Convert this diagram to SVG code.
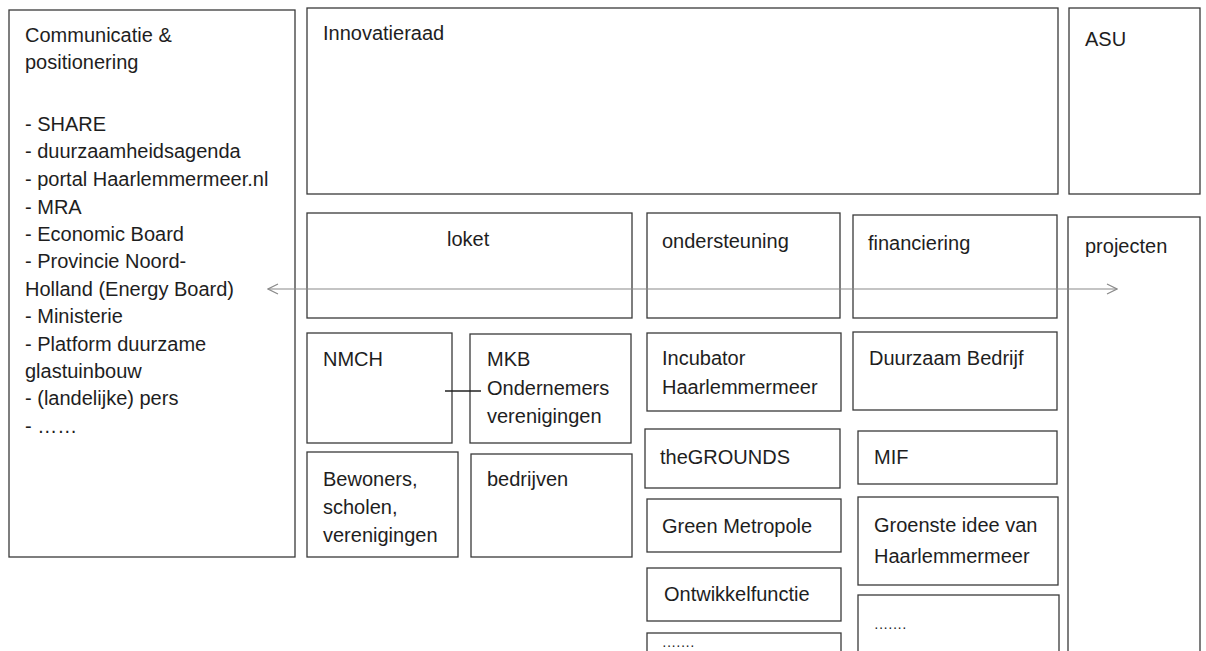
<svg xmlns="http://www.w3.org/2000/svg" width="1206" height="651" viewBox="0 0 1206 651">
<style>
.box{fill:#fff;stroke:#3a3a3a;stroke-width:1.3}
text{font-family:"Liberation Sans",Arial,sans-serif;font-size:20px;fill:#1e1e1e}
.conn{stroke:#8a8a8a;stroke-width:1.2;fill:none}
.link{stroke:#222;stroke-width:1.5;fill:none}
</style>
<defs>
<marker id="open" viewBox="0 0 12 12" refX="11" refY="6" markerWidth="12" markerHeight="12" markerUnits="userSpaceOnUse" orient="auto-start-reverse">
<path d="M1,1 L11,6 L1,11" fill="none" stroke="#8a8a8a" stroke-width="1.2"/>
</marker>
</defs>
<rect width="1206" height="651" fill="#fff"/>
<g id="communicatie">
<rect class="box" x="9" y="10" width="286" height="547"/>
<text x="25" y="42">Communicatie &amp;</text>
<text x="25" y="69">positionering</text>
<text x="25" y="131">- SHARE</text>
<text x="25" y="158">- duurzaamheidsagenda</text>
<text x="25" y="186">- portal Haarlemmermeer.nl</text>
<text x="25" y="214">- MRA</text>
<text x="25" y="241">- Economic Board</text>
<text x="25" y="268">- Provincie Noord-</text>
<text x="25" y="296">Holland (Energy Board)</text>
<text x="25" y="323">- Ministerie</text>
<text x="25" y="351">- Platform duurzame</text>
<text x="25" y="378">glastuinbouw</text>
<text x="25" y="405">- (landelijke) pers</text>
<text x="25" y="433">- ……</text>
</g>
<g id="innovatieraad">
<rect class="box" x="307" y="8" width="751" height="186"/>
<text x="323" y="40">Innovatieraad</text>
</g>
<g id="asu">
<rect class="box" x="1069" y="8" width="131" height="186"/>
<text x="1085" y="46">ASU</text>
</g>
<g id="loket">
<rect class="box" x="307" y="213" width="325" height="105"/>
<text x="447" y="246">loket</text>
</g>
<g id="ondersteuning">
<rect class="box" x="647" y="213" width="193" height="105"/>
<text x="662" y="248">ondersteuning</text>
</g>
<g id="financiering">
<rect class="box" x="853" y="215" width="204" height="103"/>
<text x="868" y="250">financiering</text>
</g>
<g id="projecten">
<rect class="box" x="1068" y="217" width="132" height="440"/>
<text x="1085" y="253">projecten</text>
</g>
<g id="nmch">
<rect class="box" x="307" y="333" width="145" height="110"/>
<text x="323" y="366">NMCH</text>
</g>
<g id="mkb">
<rect class="box" x="470" y="334" width="161" height="109"/>
<text x="487" y="366">MKB</text>
<text x="487" y="395">Ondernemers</text>
<text x="487" y="423">verenigingen</text>
</g>
<g id="bewoners">
<rect class="box" x="307" y="452" width="151" height="105"/>
<text x="323" y="486">Bewoners,</text>
<text x="323" y="514">scholen,</text>
<text x="323" y="542">verenigingen</text>
</g>
<g id="bedrijven">
<rect class="box" x="471" y="454" width="161" height="103"/>
<text x="487" y="486">bedrijven</text>
</g>
<g id="incubator">
<rect class="box" x="647" y="333" width="194" height="78"/>
<text x="662" y="365">Incubator</text>
<text x="662" y="394">Haarlemmermeer</text>
</g>
<g id="duurzaam-bedrijf">
<rect class="box" x="853" y="332" width="204" height="78"/>
<text x="869" y="365">Duurzaam Bedrijf</text>
</g>
<g id="thegrounds">
<rect class="box" x="645" y="429" width="195" height="59"/>
<text x="660" y="464">theGROUNDS</text>
</g>
<g id="mif">
<rect class="box" x="858" y="431" width="199" height="53"/>
<text x="874" y="464">MIF</text>
</g>
<g id="green-metropole">
<rect class="box" x="647" y="499" width="194" height="53"/>
<text x="662" y="533">Green Metropole</text>
</g>
<g id="groenste-idee">
<rect class="box" x="858" y="497" width="200" height="88"/>
<text x="874" y="532">Groenste idee van</text>
<text x="874" y="563">Haarlemmermeer</text>
</g>
<g id="ontwikkelfunctie">
<rect class="box" x="647" y="568" width="194" height="53"/>
<text x="664" y="601">Ontwikkelfunctie</text>
</g>
<g id="meer-ondersteuning">
<rect class="box" x="647" y="633" width="194" height="30"/>
<text x="662" y="650" style="font-size:14px">·······</text>
</g>
<g id="meer-financiering">
<rect class="box" x="858" y="595" width="201" height="70"/>
<text x="874" y="632" style="font-size:14px">·······</text>
</g>
<g id="connectors">
<line class="conn" x1="268" y1="289" x2="1117" y2="289" marker-start="url(#open)" marker-end="url(#open)"/>
<line class="link" x1="445" y1="391" x2="481" y2="391"/>
</g>
</svg>
